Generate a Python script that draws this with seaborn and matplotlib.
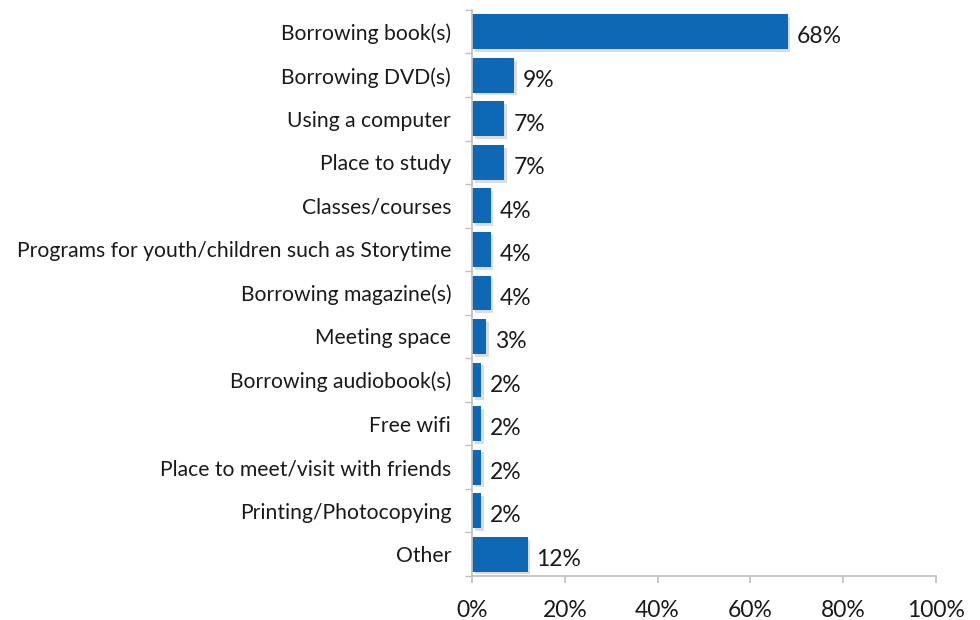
import matplotlib
matplotlib.use("Agg")
import matplotlib.pyplot as plt
import matplotlib.patheffects as pe
import seaborn as sns
import pandas as pd

categories = ["Borrowing book(s)", "Borrowing DVD(s)", "Using a computer", "Place to study",
              "Classes/courses", "Programs for youth/children such as Storytime",
              "Borrowing magazine(s)", "Meeting space", "Borrowing audiobook(s)", "Free wifi",
              "Place to meet/visit with friends", "Printing/Photocopying", "Other"]
values = [68, 9, 7, 7, 4, 4, 4, 3, 2, 2, 2, 2, 12]
x_ticks = [0, 20, 40, 60, 80, 100]
x_tick_labels = ["0%", "20%", "40%", "60%", "80%", "100%"]

df = pd.DataFrame({"category": categories, "value": values})

sns.set_theme(style="white")
plt.rcParams["font.family"] = ["Lato", "DejaVu Sans"]

fig = plt.figure(figsize=(9.8, 6.2), dpi=100)
ax = fig.add_axes([0.4816, 0.071, 0.4735, 0.913])
sns.barplot(data=df, x="value", y="category", color="#0F68B6", saturation=1,
            width=0.8, ax=ax, orient="h", linewidth=0)
for p in ax.patches:
    p.set_linewidth(0)
    p.set_path_effects([pe.SimplePatchShadow(offset=(2, -2), shadow_rgbFace="#8c8c8c", alpha=0.3), pe.Normal()])

for i, v in enumerate(values):
    ax.text(v + 1.9, i + 0.12, f"{v}%", va="center", ha="left", fontsize=16.5, color="#1a1a1a")

ax.set_xlim(0, 100)
ax.set_ylim(len(categories) - 0.5, -0.5)
ax.set_xticks(x_ticks)
ax.set_xticklabels(x_tick_labels, fontsize=16.5, color="#1a1a1a")
ax.tick_params(axis="x", length=5, color="#bfbfbf", direction="out", pad=12, bottom=True)
ax.set_xlabel("")
ax.set_ylabel("")
for s in ["top", "right"]:
    ax.spines[s].set_visible(False)
ax.spines["left"].set_color("#bfbfbf")
ax.spines["bottom"].set_color("#bfbfbf")
ax.set_yticks([i for i in range(len(categories))])
ax.set_yticks([i - 0.5 for i in range(len(categories) + 1)], minor=True)
ax.tick_params(axis="y", which="minor", length=5, color="#bfbfbf", left=True)
ax.tick_params(axis="y", which="major", labelsize=15.2, labelcolor="#1a1a1a", length=0, pad=15)

fig.savefig("out.png", dpi=100, facecolor="white")
